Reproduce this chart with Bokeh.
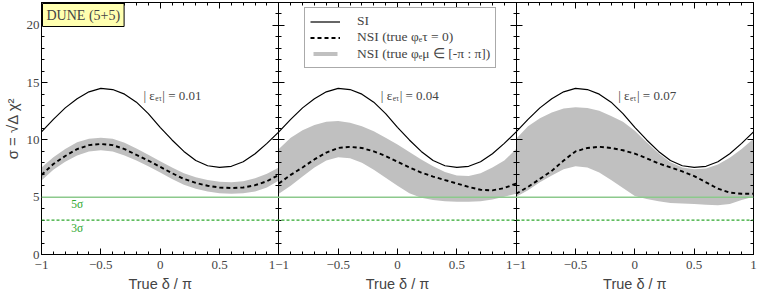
from bokeh.plotting import figure
from bokeh.models import (Range1d, LinearAxis, FixedTicker, Span, Label, Legend,
                          LegendItem, ColumnDataSource, CustomJSTickFormatter)
from bokeh.embed import file_html
from bokeh.resources import INLINE

# ---------------- data ----------------
delta = [-1.0, -0.9, -0.8, -0.7, -0.6, -0.5, -0.4, -0.3, -0.2, -0.1, 0.0,
         0.1, 0.2, 0.3, 0.4, 0.5, 0.6, 0.7, 0.8, 0.9, 1.0]

si = [10.7, 11.8, 12.8, 13.6, 14.2, 14.5, 14.4, 14.0, 13.3, 12.3, 11.1,
      10.0, 9.0, 8.2, 7.75, 7.6, 7.7, 8.1, 8.8, 9.7, 10.7]

nsi_001 = [6.95, 7.9, 8.6, 9.2, 9.55, 9.65, 9.55, 9.2, 8.7, 8.2, 7.65,
           7.1, 6.6, 6.25, 6.0, 5.85, 5.8, 5.85, 6.05, 6.4, 6.95]
hi_001 = [7.6, 8.5, 9.2, 9.8, 10.1, 10.2, 10.1, 9.75, 9.25, 8.7, 8.15,
          7.6, 7.1, 6.75, 6.5, 6.35, 6.3, 6.4, 6.65, 7.05, 7.6]
lo_001 = [6.45, 7.4, 8.1, 8.65, 9.0, 9.1, 9.0, 8.65, 8.2, 7.7, 7.15,
          6.6, 6.1, 5.75, 5.5, 5.35, 5.3, 5.35, 5.5, 5.85, 6.45]

nsi_004 = [6.2, 6.95, 7.6, 8.3, 8.9, 9.3, 9.4, 9.3, 9.0, 8.6, 8.1,
           7.6, 7.15, 6.8, 6.5, 6.2, 5.9, 5.65, 5.6, 5.8, 6.2]
hi_004 = [9.2, 10.2, 10.85, 11.3, 11.6, 11.65, 11.5, 11.2, 10.75, 10.2, 9.6,
          8.95, 8.3, 7.7, 7.2, 6.9, 6.85, 7.1, 7.6, 8.2, 9.2]
lo_004 = [5.3, 6.0, 6.8, 7.6, 8.2, 8.5, 8.4, 8.0, 7.4, 6.7, 6.0,
          5.35, 4.95, 4.75, 4.65, 4.6, 4.6, 4.65, 4.8, 5.05, 5.3]

nsi_007 = [5.3, 5.9, 6.6, 7.3, 8.2, 9.0, 9.3, 9.4, 9.3, 9.1, 8.8,
           8.4, 7.95, 7.6, 7.25, 6.85, 6.3, 5.75, 5.4, 5.3, 5.3]
hi_007 = [10.1, 11.2, 11.9, 12.4, 12.75, 12.85, 12.8, 12.55, 12.1, 11.6, 10.8,
          9.8, 8.85, 8.05, 7.6, 7.45, 7.5, 7.85, 8.45, 9.2, 10.1]
lo_007 = [5.05, 5.6, 6.3, 6.9, 7.45, 7.7, 7.6, 7.15, 6.5, 5.8, 5.1,
          4.85, 4.65, 4.5, 4.45, 4.4, 4.35, 4.3, 4.4, 4.75, 5.05]

eps_values = ["0.01", "0.04", "0.07"]
nsi_curves = [nsi_001, nsi_004, nsi_007]
band_hi = [hi_001, hi_004, hi_007]
band_lo = [lo_001, lo_004, lo_007]

x_tick_values = [-1.0, -0.5, 0.0, 0.5, 1.0]
x_tick_labels = ["\u22121", "\u22120.5", "0", "0.5", "1"]
x_title = "True \u03b4 / \u03c0"
y_tick_values = [0, 5, 10, 15, 20]
y_title = "\u03c3 = \u221a\u0394 \u03c7\u00b2"
sigma_levels = [5, 3]
sigma_labels = ["5\u03c3", "3\u03c3"]

legend_labels = ["SI", "NSI (true \u03c6\u2091\u03c4 = 0)",
                 "NSI (true \u03c6\u2091\u03bc \u2208 [-\u03c0 : \u03c0])"]

# ---------------- figure ----------------
SERIF = "Liberation Serif"
SANS = "Liberation Sans"
n_pan = 3

p = figure(frame_width=712, frame_height=252,
           x_range=Range1d(-1, 2 * n_pan - 1), y_range=Range1d(0, 22),
           x_axis_type=None, y_axis_type=None,
           output_backend="svg", toolbar_location=None,
           min_border_left=30, min_border_right=7, min_border_top=2,
           min_border_bottom=40)
p.outline_line_color = "black"
p.outline_line_width = 1
p.background_fill_color = "white"
p.border_fill_color = "white"

empty_fmt = CustomJSTickFormatter(code="return ''")

# panel x scales
for i in range(n_pan):
    p.extra_x_ranges[f"panel{i}"] = Range1d(-1 - 2 * i, 2 * n_pan - 1 - 2 * i)

# significance lines
p.add_layout(Span(location=sigma_levels[0], dimension="width",
                  line_color="#8cc98c", line_width=1.3))
p.add_layout(Span(location=sigma_levels[1], dimension="width",
                  line_color="#2ea82e", line_width=1.4, line_dash="3 2"))

legend_r = {}
for i in range(n_pan):
    name = f"panel{i}"
    src = ColumnDataSource(dict(d=delta, si=si, nsi=nsi_curves[i],
                                lo=band_lo[i], hi=band_hi[i]))
    r_band = p.varea(x="d", y1="lo", y2="hi", source=src, fill_color="#c0c0c0",
                     x_range_name=name)
    r_si = p.line("d", "si", source=src, line_color="black", line_width=1.2,
                  line_join="round", x_range_name=name)
    r_nsi = p.line("d", "nsi", source=src, line_color="black", line_width=1.9,
                   line_dash="4 3", x_range_name=name)
    legend_r["si"] = r_si
    legend_r["nsi"] = r_nsi
    legend_r["band"] = r_band
    # |eps_e tau| = value, with a small subscript
    p.add_layout(Label(x=-0.045, y=13.85, x_range_name=name, text="| \u03b5",
                       text_font=SERIF, text_font_size="13px",
                       text_baseline="alphabetic", text_align="right"))
    p.add_layout(Label(x=-0.045, y=13.85, x_range_name=name, text="e\u03c4",
                       text_font=SERIF, text_font_size="7.5px", x_offset=0.5,
                       y_offset=-2.5, text_baseline="alphabetic", text_align="left"))
    p.add_layout(Label(x=-0.045, y=13.85, x_range_name=name,
                       text=f"| = {eps_values[i]}", x_offset=7.5,
                       text_font=SERIF, text_font_size="13px",
                       text_baseline="alphabetic", text_align="left"))

# sigma labels
for lev, lab, yy in zip(sigma_levels, sigma_labels, [4.45, 2.35]):
    p.add_layout(Label(x=-0.7, y=yy, text=lab, text_font=SERIF,
                       text_font_size="11.5px", text_color="#2ea82e",
                       text_align="center", text_baseline="middle"))

# DUNE box
p.add_layout(Label(x=-1, y=22, text="DUNE (5+5)", text_font=SERIF,
                   text_font_size="14px", text_align="left",
                   text_baseline="top", x_offset=1, y_offset=-1, padding=4,
                   background_fill_color="#ffffb0", border_line_color="black",
                   border_line_width=1))

# ---------------- axes ----------------
y_minor = [v for v in range(0, 23) if v not in y_tick_values]

yl = LinearAxis(ticker=FixedTicker(ticks=y_tick_values, minor_ticks=y_minor),
                axis_label=y_title)
yr = LinearAxis(ticker=FixedTicker(ticks=y_tick_values, minor_ticks=y_minor),
                formatter=empty_fmt)
for ax in (yl, yr):
    ax.major_tick_in = 6
    ax.major_tick_out = 0
    ax.minor_tick_in = 3
    ax.minor_tick_out = 0
yl.major_label_text_font = SERIF
yl.major_label_text_font_size = "13px"
yl.major_label_standoff = 2
yl.axis_label_text_font = SANS
yl.axis_label_text_font_size = "15px"
yl.axis_label_text_font_style = "normal"
yl.axis_label_standoff = 3
yr.major_label_text_font_size = "0px"
yr.major_label_standoff = 0
p.add_layout(yl, "left")
p.add_layout(yr, "right")

# separators between panels (ticks on both sides)
for i in range(1, n_pan):
    sep = LinearAxis(ticker=FixedTicker(ticks=y_tick_values, minor_ticks=y_minor),
                     formatter=empty_fmt, fixed_location=2 * i - 1)
    sep.major_tick_in = 6
    sep.major_tick_out = 6
    sep.minor_tick_in = 3
    sep.minor_tick_out = 3
    sep.major_label_text_font_size = "0px"
    sep.major_label_standoff = 0
    p.add_layout(sep, "left")

# x ticks across all panels
main_ticks = []
main_labels = {}
for i in range(n_pan):
    for v, lab in zip(x_tick_values, x_tick_labels):
        pos = v + 2 * i
        if pos in main_labels:
            main_labels[pos] = main_labels[pos] + lab
        else:
            main_ticks.append(pos)
            main_labels[pos] = lab
x_minor = [round(-1 + 0.1 * k, 2) for k in range(0, 10 * 2 * n_pan + 1)]
x_minor = [m for m in x_minor if all(abs(m - t) > 1e-6 for t in main_ticks)]

xb = LinearAxis(ticker=FixedTicker(ticks=main_ticks, minor_ticks=x_minor),
                major_label_overrides=main_labels)
xt = LinearAxis(ticker=FixedTicker(ticks=main_ticks, minor_ticks=x_minor),
                formatter=empty_fmt)
for ax in (xb, xt):
    ax.major_tick_in = 6
    ax.major_tick_out = 0
    ax.minor_tick_in = 3
    ax.minor_tick_out = 0
xb.major_label_text_font = SERIF
xb.major_label_text_font_size = "13px"
xb.major_label_standoff = 6
xt.major_label_text_font_size = "0px"
xt.major_label_standoff = 0
p.add_layout(xb, "below")
p.add_layout(xt, "above")

# per-panel x titles: a second axis below, one label at each panel centre
title_ticks = [2 * i for i in range(n_pan)]
xtl = LinearAxis(ticker=FixedTicker(ticks=title_ticks, minor_ticks=[]),
                 major_label_overrides={t: x_title for t in title_ticks})
xtl.axis_line_color = None
xtl.major_tick_line_color = None
xtl.minor_tick_line_color = None
xtl.major_tick_in = 0
xtl.major_tick_out = 0
xtl.minor_tick_in = 0
xtl.minor_tick_out = 0
xtl.major_label_standoff = 4
xtl.major_label_text_font = SANS
xtl.major_label_text_font_size = "14.5px"
p.add_layout(xtl, "below")

# ---------------- legend ----------------
legend = Legend(items=[LegendItem(label=legend_labels[0], renderers=[legend_r["si"]]),
                       LegendItem(label=legend_labels[1], renderers=[legend_r["nsi"]]),
                       LegendItem(label=legend_labels[2], renderers=[legend_r["band"]])],
                location=(263, 186))
legend.label_text_font = SERIF
legend.label_text_font_size = "13.5px"
legend.glyph_width = 30
legend.glyph_height = 5
legend.label_height = 15
legend.label_standoff = 17
legend.spacing = 0
legend.padding = 5
legend.margin = 0
legend.border_line_color = "#555555"
legend.border_line_width = 1
legend.background_fill_alpha = 1.0
p.add_layout(legend)

open("out.html", "w").write(file_html(p, INLINE))
